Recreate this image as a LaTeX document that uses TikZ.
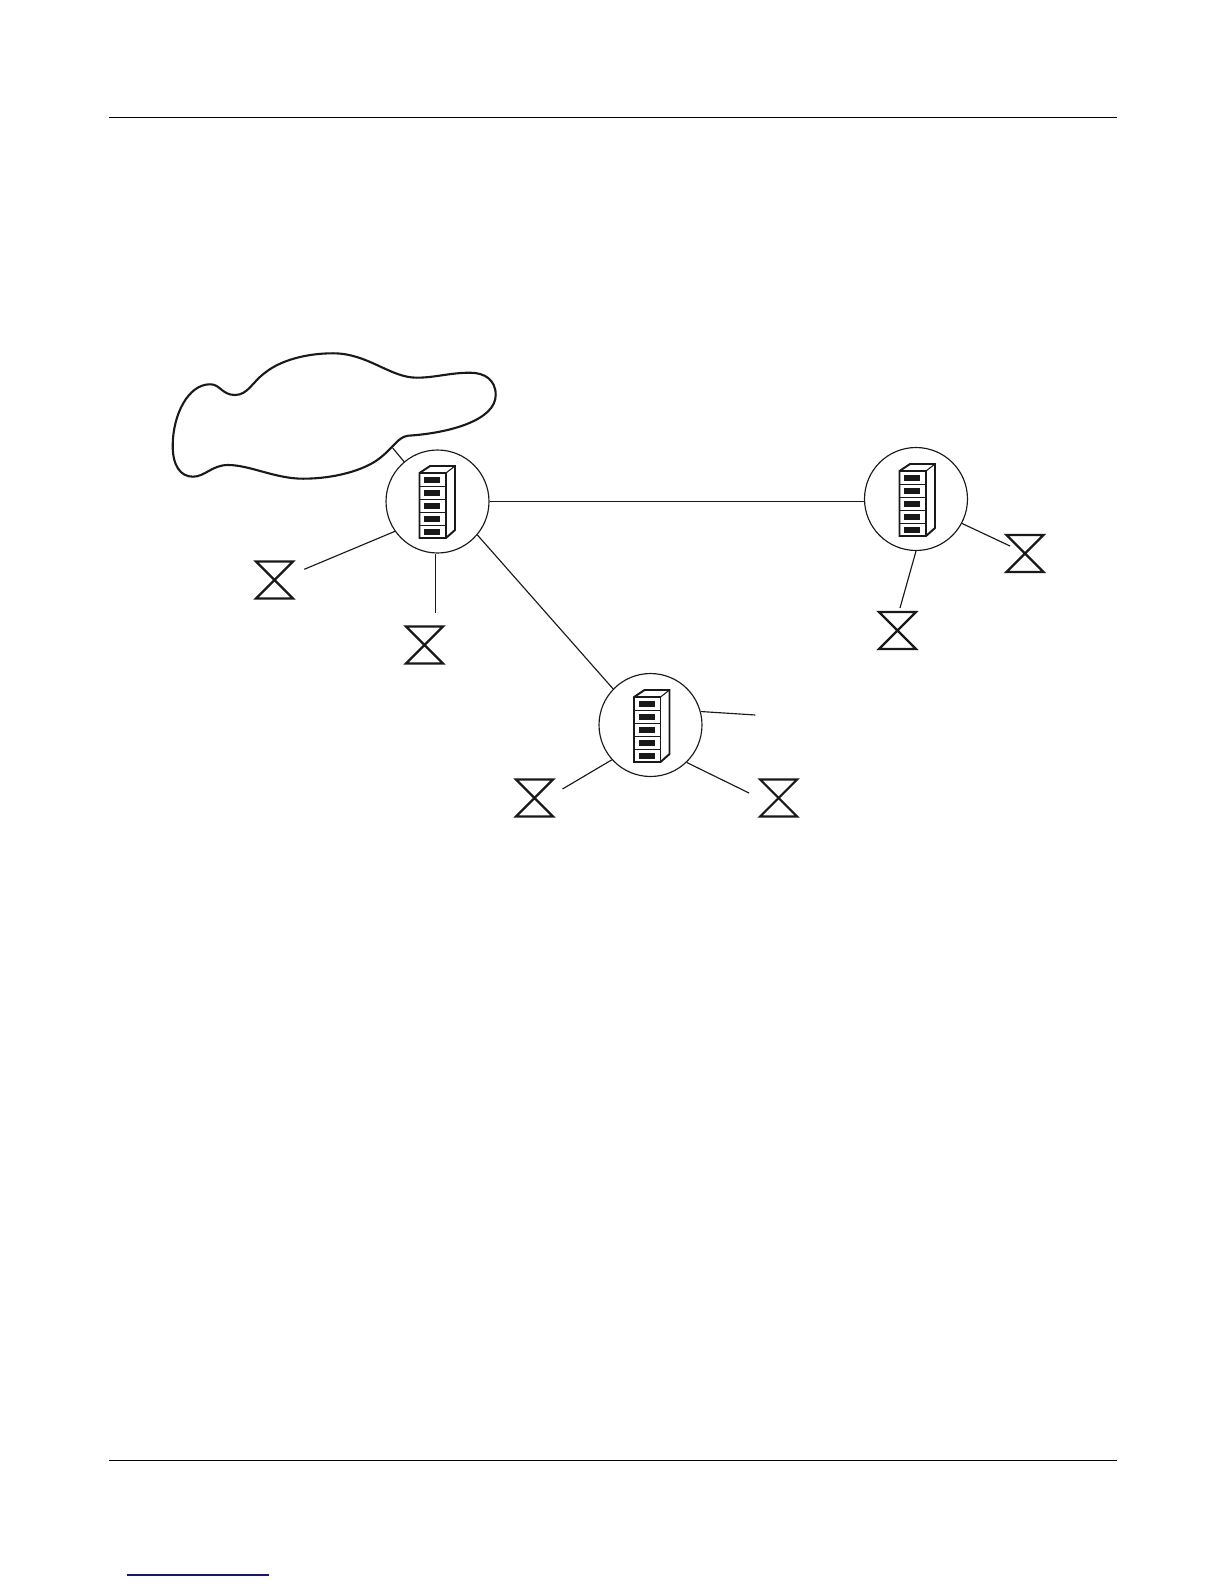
\documentclass[tikz,border=0pt]{standalone}
\usepackage{xcolor}
\usepackage{tikz}
\definecolor{linknavy}{RGB}{20,20,130}
\tikzset{
  switchnode/.style={draw=black!90,circle,minimum size=2.06cm,inner sep=0pt,line width=0.65pt},
  trunkline/.style={draw=black!90,line width=0.65pt},
  hourline/.style={draw=black!90,line width=1.25pt,line join=miter},
  cloudline/.style={draw=black!90,line width=1.2pt},
  pagerule/.style={draw=black,line width=0.6pt},
  cabinet/.pic={
    \draw[black!90,line width=1.1pt,line join=miter] (-18,-29) -- (-7.5,-36) -- (17.5,-36) -- (17.5,28) -- (8.5,36) -- (-18,36) -- cycle;
    \draw[black!90,line width=1.1pt] (-18,-29) -- (8.5,-29) -- (8.5,36);
    \draw[black!90,line width=0.6pt] (8.5,-29) -- (17.5,-36);
    \draw[black!90,line width=0.5pt] (-18,-16) -- (8.5,-16);
    \draw[black!90,line width=0.5pt] (-18,-2.7) -- (8.5,-2.7);
    \draw[black!90,line width=0.5pt] (-18,10.3) -- (8.5,10.3);
    \draw[black!90,line width=0.5pt] (-18,23.3) -- (8.5,23.3);
    \fill[black!90] (-13.5,-25) rectangle (2.5,-19);
    \fill[black!90] (-13.5,-12) rectangle (2.5,-6);
    \fill[black!90] (-13.5,1) rectangle (2.5,7);
    \fill[black!90] (-13.5,14) rectangle (2.5,20);
    \fill[black!90] (-13.5,27) rectangle (2.5,33);
  },
  hourglass/.pic={
    \draw[hourline] (-18.5,-18.5) -- (18.5,-18.5) -- (-18.5,18.5) -- (18.5,18.5) -- cycle;
  }
}
\begin{document}
\begin{tikzpicture}[x=0.02cm,y=-0.02cm]
  \useasboundingbox (0,0) rectangle (1224,1584);
  \draw[pagerule] (109,117.5) -- (1117,117.5);
  \draw[pagerule] (109,1460.5) -- (1117,1460.5);
  \draw[draw=linknavy,line width=0.6pt] (127,1575) -- (269,1575);
  \node[switchnode] (sw1) at (437.5,501.5) {};
  \node[switchnode] (sw2) at (916,499) {};
  \node[switchnode] (sw3) at (650.5,725) {};
  \pic (cab1) at (437.5,502) {cabinet};
  \pic (cab2) at (917.5,500) {cabinet};
  \pic (cab3) at (652,726) {cabinet};
  \draw[cloudline] (210,384.3) .. controls (220,384) and (222,395) .. (235,395)
    .. controls (248,395) and (252,382) .. (266,372)
    .. controls (280,361) and (305,353.3) .. (333,353.3)
    .. controls (368,353.3) and (390,377.7) .. (416.7,377.7)
    .. controls (435,377.7) and (450,372.7) .. (470,372.7)
    .. controls (485,372.7) and (495.7,380) .. (495.7,395)
    .. controls (495.7,420) and (450,433) .. (408.3,435.7)
    .. controls (398,437) and (395,446) .. (380,458)
    .. controls (365,470) and (335,478.7) .. (303,478.7)
    .. controls (275,478.7) and (250,465) .. (228,465)
    .. controls (212,465) and (205,476.7) .. (193,476.7)
    .. controls (180,476.7) and (172.7,465) .. (172.7,446)
    .. controls (172.7,415) and (188,384.3) .. (210,384.3) -- cycle;
  \coordinate (cloudport) at (392.7,448);
  \coordinate (end1) at (304.3,569.3);
  \coordinate (end2) at (435.7,613);
  \coordinate (end3) at (1010,546);
  \coordinate (end4) at (900,608);
  \coordinate (end5) at (755.4,715);
  \coordinate (end6) at (562.5,789);
  \coordinate (end7) at (749,793);
  \pic (gate1) at (274.5,580) {hourglass};
  \pic (gate2) at (424.5,645) {hourglass};
  \pic (gate3) at (1025,553.5) {hourglass};
  \pic (gate4) at (897.5,630.5) {hourglass};
  \pic (gate5) at (534.5,798) {hourglass};
  \pic (gate6) at (778.6,798) {hourglass};
  \draw[trunkline] (sw1.east) -- (sw1.east -| sw2.west);
  \draw[trunkline] (sw1.-40) -- (sw3.136);
  \draw[trunkline] (sw1.130) -- (cloudport);
  \draw[trunkline] (sw1.215) -- (end1);
  \draw[trunkline] (end2 |- sw1.south) -- (end2);
  \draw[trunkline] (sw2.-28) -- (end3);
  \draw[trunkline] (sw2.-90) -- (end4);
  \draw[trunkline] (sw3.15) -- (end5);
  \draw[trunkline] (sw3.222) -- (end6);
  \draw[trunkline] (sw3.-46) -- (end7);
\end{tikzpicture}
\end{document}
